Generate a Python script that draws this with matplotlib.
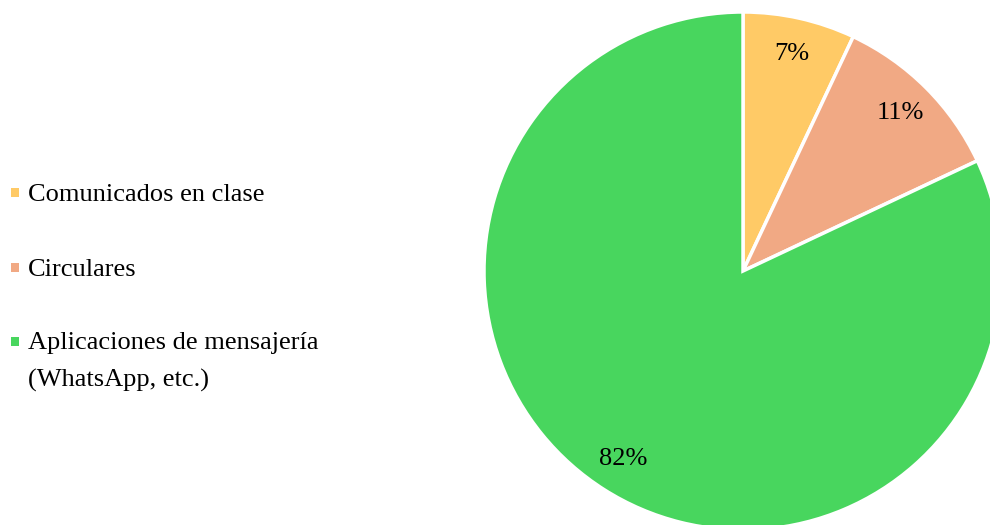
import matplotlib.pyplot as plt
from matplotlib.patches import Rectangle

categorias = ['Comunicados en clase', 'Circulares', 'Aplicaciones de mensajería\n(WhatsApp, etc.)']
porcentajes = [7, 11, 82]
colores = ['#FFCA66', '#F1A984', '#48D65E']

plt.rcParams['font.family'] = ['Liberation Serif', 'DejaVu Serif']

W, H = 990, 525
fig = plt.figure(figsize=(W / 100, H / 100), dpi=100)
ax = fig.add_axes([484 / W, -5 / H, 518 / W, 518 / H])

wedges, textos, autotextos = ax.pie(
    porcentajes, colors=colores, startangle=90, counterclock=False,
    autopct='%1.0f%%', pctdistance=0.86, radius=1,
    wedgeprops=dict(edgecolor='white', linewidth=2.5),
    textprops=dict(fontsize=19, color='black'))
ax.set_xlim(-1, 1)
ax.set_ylim(-1, 1)

# leyenda a mano: cuadrito de color + texto (el último en dos líneas)
y_cuadro = [192, 267, 341]
for cat, col, yc in zip(categorias, colores, y_cuadro):
    fig.patches.append(Rectangle((11 / W, 1 - (yc + 4.5) / H), 8 / W, 9 / H,
                                 transform=fig.transFigure, facecolor=col,
                                 edgecolor='none'))
    for j, linea in enumerate(cat.split('\n')):
        fig.text(28 / W, 1 - (yc + 8.5 + j * 37) / H, linea, fontsize=19,
                 ha='left', va='baseline', color='black')

fig.savefig('out.png', dpi=100)
